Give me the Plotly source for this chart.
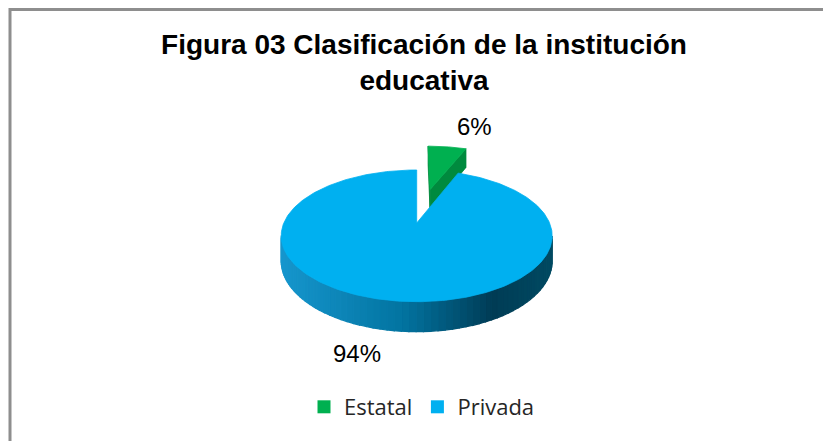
import numpy as np
import plotly.graph_objects as go

# ---------------- data ----------------
categories = ["Estatal", "Privada"]
values = [6, 94]
label_texts = ["6%", "94%"]
explode = [0.6, 0.0]

# ---------------- style ----------------
W, H = 823, 441
top_colors = ["#00B050", "#00B0F0"]
face_colors = ["#008A3E", "#0070A0"]
# side-wall gradient stops (position over pie width, rgb)
side_stops = [(0.0, (22, 150, 205)), (0.45, (2, 115, 160)), (0.78, (0, 60, 85)), (1.0, (0, 74, 98))]
CX, CY = 416.7, 223.0          # projected pie centre (pixels)
A, B, PB = 132.9, 63.35, 0.195  # perspective projection parameters
DEPTH = 24.15
label_r = [1.6, 1.5]
label_shift = [(19, 0), (-7, 0)]


def proj(X, Z, drop=0.0):
    X = np.asarray(X, float)
    Z = np.asarray(Z, float)
    w = 1 + PB * Z
    return CX + A * X / w, CY + (-B * Z + drop) / w


def grad(t):
    for (p0, c0), (p1, c1) in zip(side_stops[:-1], side_stops[1:]):
        if t <= p1:
            f = (t - p0) / (p1 - p0) if p1 > p0 else 0
            c = [round(a + (b - a) * f) for a, b in zip(c0, c1)]
            return "rgb(%d,%d,%d)" % tuple(c)
    return "rgb(%d,%d,%d)" % side_stops[-1][1]


fig = go.Figure()


def poly(xs, ys, color, lw=0.8):
    xs = list(xs) + [xs[0]]
    ys = list(ys) + [ys[0]]
    fig.add_trace(go.Scatter(x=xs, y=ys, mode="lines", fill="toself", fillcolor=color,
                             line=dict(color=color, width=lw), showlegend=False,
                             hoverinfo="skip"))


total = float(sum(values))
cam_z = -1.0 / PB
angles = np.cumsum([0] + [v / total * 2 * np.pi for v in values])

# pie x extent for gradient
full = np.linspace(0, 2 * np.pi, 721)
px_all, _ = proj(np.sin(full), np.cos(full))
xmin, xmax = px_all.min(), px_all.max()

slices = []
for i, v in enumerate(values):
    t0, t1 = angles[i], angles[i + 1]
    mid = (t0 + t1) / 2
    ox, oz = explode[i] * np.sin(mid), explode[i] * np.cos(mid)
    slices.append((t0, t1, mid, ox, oz))

# draw back-to-front: exploded (far) slices first
order = sorted(range(len(values)), key=lambda k: -slices[k][4])
for i in order:
    t0, t1, mid, ox, oz = slices[i]
    # radial faces
    for t, sgn in ((t0, -1), (t1, 1)):
        nx, nz = sgn * np.cos(t), -sgn * np.sin(t)
        px, pz = ox + 0.5 * np.sin(t), oz + 0.5 * np.cos(t)
        if nx * (0 - px) + nz * (cam_z - pz) > 1e-6:
            Xs = [ox, ox + np.sin(t), ox + np.sin(t), ox]
            Zs = [oz, oz + np.cos(t), oz + np.cos(t), oz]
            drops = [0, 0, DEPTH, DEPTH]
            xs, ys = zip(*[proj(x, z, d) for x, z, d in zip(Xs, Zs, drops)])
            poly([float(a) for a in xs], [float(b) for b in ys], face_colors[i])
    # outer side wall (visible part), as gradient strips
    th = np.linspace(t0, t1, 400)
    vis = (-ox * np.sin(th) - 1 - (-cam_z + oz) * np.cos(th)) > 0
    idx = np.where(vis)[0]
    if len(idx) > 1:
        segs = np.array_split(idx, 70)
        for s in segs:
            if len(s) < 1:
                continue
            a0 = s[0]
            a1 = min(s[-1] + 1, len(th) - 1)
            tt = th[a0:a1 + 1]
            X = ox + np.sin(tt)
            Z = oz + np.cos(tt)
            xt, yt = proj(X, Z)
            xb, yb = proj(X, Z, DEPTH)
            xs = list(xt) + list(xb[::-1])
            ys = list(yt) + list(yb[::-1])
            tcol = (np.mean(xt) - xmin) / (xmax - xmin)
            poly(xs, ys, grad(min(max(tcol, 0), 1)), lw=1.2)
    # top face
    th = np.linspace(t0, t1, 300)
    xt, yt = proj(ox + np.sin(th), oz + np.cos(th))
    ax, ay = proj(ox, oz)
    poly([float(ax)] + list(xt), [float(ay)] + list(yt), top_colors[i])

# data labels
for i, txt in enumerate(label_texts):
    t0, t1, mid, ox, oz = slices[i]
    lx, ly = proj(ox + label_r[i] * np.sin(mid), oz + label_r[i] * np.cos(mid))
    fig.add_annotation(x=float(lx), y=float(ly), text=txt, showarrow=False,
                       xshift=label_shift[i][0], yshift=label_shift[i][1],
                       font=dict(family="Liberation Sans, Arial", size=24, color="#000000"))

# legend entries
for c, col in zip(categories, top_colors):
    fig.add_trace(go.Scatter(x=[None], y=[None], mode="markers", name=c,
                             marker=dict(symbol="square", size=13, color=col)))

fig.add_shape(type="rect", xref="paper", yref="paper",
              x0=10 / W, x1=1.05, y0=-0.05, y1=1 - 9.5 / H,
              line=dict(color="#8E8E8E", width=3), layer="above")

fig.update_layout(
    width=W, height=H,
    margin=dict(l=0, r=0, t=0, b=0),
    paper_bgcolor="white", plot_bgcolor="white",
    title=dict(text="<b>Figura 03 Clasificación de la institución<br>educativa</b>",
               x=424 / W, xanchor="center", y=1 - 54 / H, yanchor="top",
               font=dict(family="Liberation Sans, Arial", size=28, color="#000000")),
    xaxis=dict(range=[0, W], visible=False, fixedrange=True),
    yaxis=dict(range=[H, 0], visible=False, fixedrange=True),
    showlegend=True,
    legend=dict(orientation="h", x=422 / W, xanchor="center", y=1 - 407 / H, yanchor="middle",
                font=dict(family="Open Sans", size=22, color="#262626"),
                itemclick=False, bgcolor="rgba(0,0,0,0)"),
)

fig.write_html("out.html", config={"displayModeBar": False},
               post_script="document.body.style.margin='0';document.body.style.padding='0';")
